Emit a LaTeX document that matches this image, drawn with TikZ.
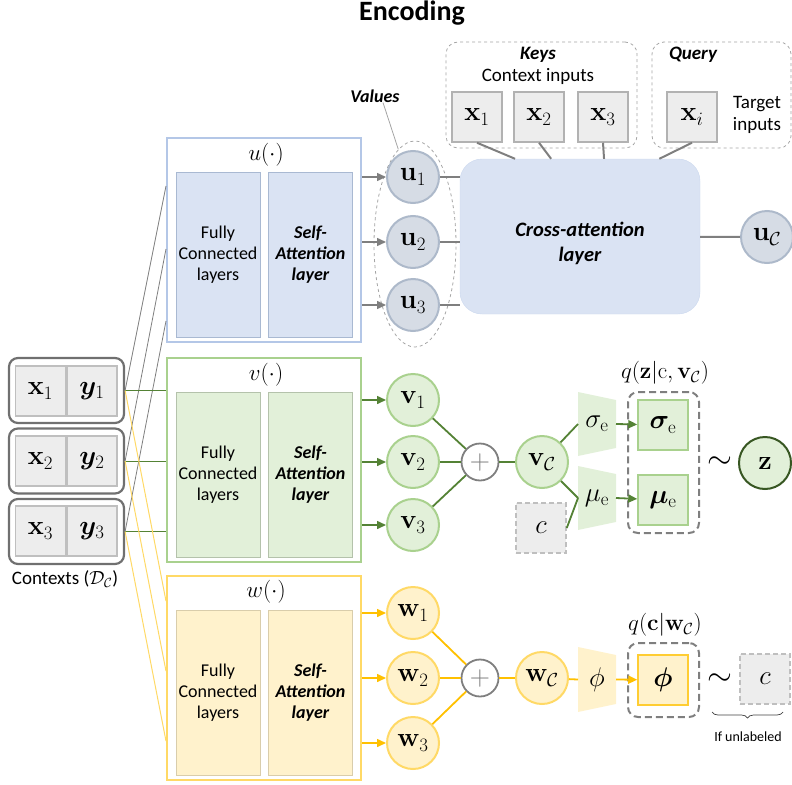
\RequirePackage{fix-cm}
\documentclass[tikz,border=0pt]{standalone}
\usepackage[no-math]{fontspec}
\setmainfont{Carlito}
\usepackage{amsmath,amsfonts,bm}
\usepackage{tikz}
\usetikzlibrary{shapes,arrows.meta,calc,decorations.pathreplacing}

\definecolor{ublue}{HTML}{DAE3F3}
\definecolor{uline}{HTML}{B4C7E7}
\definecolor{ucirc}{HTML}{D6DCE5}
\definecolor{ucircline}{HTML}{ADB9CA}
\definecolor{vgreen}{HTML}{E2F0D9}
\definecolor{vline}{HTML}{A9D18E}
\definecolor{vdark}{HTML}{548235}
\definecolor{zdark}{HTML}{385723}
\definecolor{wyellow}{HTML}{FFF2CC}
\definecolor{wline}{HTML}{FFD966}
\definecolor{wdark}{HTML}{FFC000}
\definecolor{cellgray}{HTML}{EDEDED}
\definecolor{cellline}{HTML}{BFBFBF}
\definecolor{linegray}{HTML}{7F7F7F}
\definecolor{ctxline}{HTML}{707070}

\begin{document}
\begin{tikzpicture}[x=1pt,y=-1pt,>={Triangle[length=9pt,width=8pt]}]
	\tikzstyle{txt}=[font=\fontsize{18}{21}\selectfont,align=center,inner sep=0pt]
	\tikzstyle{bitxt}=[font=\fontsize{18}{21}\selectfont\bfseries\itshape,align=center,inner sep=0pt]
	\tikzstyle{mth}=[font=\fontsize{23}{27}\selectfont,inner sep=0pt]
	\tikzstyle{trap}=[font=\fontsize{27}{30}\selectfont,inner sep=0pt]
	\tikzstyle{block}=[draw,fill=white,line width=2pt,minimum width=194pt,minimum height=204pt]
	\tikzstyle{panel}=[draw,line width=0.8pt,minimum width=84pt,minimum height=165pt,txt]
	\tikzstyle{sapanel}=[panel,bitxt]
	\tikzstyle{circ}=[circle,line width=2pt,minimum size=52pt,inner sep=0pt,font=\fontsize{27}{30}\selectfont]
	\tikzstyle{cell}=[draw=cellline,fill=cellgray,line width=1.5pt,minimum width=50pt,minimum height=50pt,inner sep=0pt,font=\fontsize{27}{30}\selectfont]
	\tikzstyle{ghost}=[cell,dash pattern=on 5pt off 3pt]
	\tikzstyle{ctxbox}=[draw=ctxline,line width=2.2pt,rounded corners=9pt,minimum width=115pt,minimum height=65pt]
	\tikzstyle{keybox}=[draw=linegray!70,line width=0.8pt,dashed,rounded corners=12pt,minimum height=106pt]
	\tikzstyle{qbox}=[draw=linegray,line width=2pt,dash pattern=on 7pt off 4pt,rounded corners=10pt,minimum width=71pt]
	\tikzstyle{plusnode}=[circle,draw=linegray,line width=1.8pt,fill=white,minimum size=37pt,inner sep=0pt,text=linegray,font=\fontsize{28}{28}\selectfont]
	\tikzstyle{sim}=[font=\fontsize{32}{32}\selectfont,inner sep=0pt]

	\useasboundingbox (0,0) rectangle (792,784);

	\node[font=\fontsize{28}{32}\selectfont\bfseries,anchor=base] (title) at (412,21) {Encoding};

	% contexts
	\node[ctxbox] (ctx1) at (66.5,390.5) {};
	\node[ctxbox] (ctx2) at (66.5,461) {};
	\node[ctxbox] (ctx3) at (66.5,531.5) {};
	\node[cell] (cx1) at (40.5,391) {$\mathbf{x}_1$};
	\node[cell] (cy1) at (92,391) {$\boldsymbol{y}_1$};
	\node[cell] (cx2) at (40.5,461) {$\mathbf{x}_2$};
	\node[cell] (cy2) at (92,461) {$\boldsymbol{y}_2$};
	\node[cell] (cx3) at (40.5,531) {$\mathbf{x}_3$};
	\node[cell] (cy3) at (92,531) {$\boldsymbol{y}_3$};
	\node[txt,font=\fontsize{19}{22}\selectfont] (ctxlab) at (65,579) {Contexts ($\mathcal{D}_{\mathcal{C}}$)};

	% the three encoders
	\node[block,draw=uline] (ublock) at (264,240) {};
	\node[block,draw=vline] (vblock) at (264,460) {};
	\node[block,draw=wline] (wblock) at (264,678) {};
	\node[mth] (utitle) at (266,155) {$u(\cdot)$};
	\node[mth] (vtitle) at (266,375) {$v(\cdot)$};
	\node[mth] (wtitle) at (266,592) {$w(\cdot)$};
	\node[panel,draw=uline!80!gray,fill=ublue] (ufc) at (218,254.5) {Fully\\Connected\\layers};
	\node[sapanel,draw=uline!80!gray,fill=ublue] (usa) at (310.5,254.5) {Self-\\Attention\\layer};
	\node[panel,draw=vline!50!gray!70,fill=vgreen] (vfc) at (218,474.5) {Fully\\Connected\\layers};
	\node[sapanel,draw=vline!50!gray!70,fill=vgreen] (vsa) at (310.5,474.5) {Self-\\Attention\\layer};
	\node[panel,draw=wline!50!gray!60,fill=wyellow] (wfc) at (218,692.5) {Fully\\Connected\\layers};
	\node[sapanel,draw=wline!50!gray!60,fill=wyellow] (wsa) at (310.5,692.5) {Self-\\Attention\\layer};

	\draw[linegray,line width=0.8pt] (ctx1.east) -- ($(ublock.north west)+(0,49)$);
	\draw[linegray,line width=0.8pt] (ctx2.east) -- ($(ublock.north west)+(0,112)$);
	\draw[linegray,line width=0.8pt] (ctx3.east) -- ($(ublock.north west)+(0,184)$);
	\draw[vdark,line width=0.8pt] (ctx1.east) -- (ctx1.east -| vblock.west);
	\draw[vdark,line width=0.8pt] (ctx2.east) -- (ctx2.east -| vblock.west);
	\draw[vdark,line width=0.8pt] (ctx3.east) -- (ctx3.east -| vblock.west);
	\draw[wline,line width=1pt] (ctx1.east) -- ($(wblock.north west)+(0,26)$);
	\draw[wline,line width=1pt] (ctx2.east) -- ($(wblock.north west)+(0,96)$);
	\draw[wline,line width=1pt] (ctx3.east) -- ($(wblock.north west)+(0,166)$);

	% keys, query and cross-attention
	\node[keybox,minimum width=191pt] (keys) at (541.5,95) {};
	\node[keybox,minimum width=139pt] (query) at (721.5,95) {};
	\node[bitxt,font=\fontsize{19}{22}\selectfont\bfseries\itshape] (keyslab) at (538,55) {Keys};
	\node[txt,font=\fontsize{19}{22}\selectfont] (ctxin) at (538,76) {Context inputs};
	\node[bitxt,font=\fontsize{19}{22}\selectfont\bfseries\itshape] (querylab) at (693,55) {Query};
	\node[txt,font=\fontsize{19}{22}\selectfont] (tgtin) at (757,115) {Target\\inputs};
	\node[cell,draw=linegray!60] (kx1) at (477,117) {$\mathbf{x}_1$};
	\node[cell,draw=linegray!60] (kx2) at (539,117) {$\mathbf{x}_2$};
	\node[cell,draw=linegray!60] (kx3) at (603,117) {$\mathbf{x}_3$};
	\node[cell,draw=linegray!60] (qxi) at (692,117) {$\mathbf{x}_i$};

	\node[draw=uline!70,fill=ublue,rounded corners=22pt,minimum width=240pt,minimum height=155pt] (cross) at (580,236.5) {};
	\node[font=\fontsize{20.5}{25}\selectfont\bfseries\itshape,align=center] (crosslab) at (580,243) {Cross-attention\\layer};

	\draw[linegray,line width=2pt] (kx1.south) -- ($(cross.north west)!0.23!(cross.north east)$);
	\draw[linegray,line width=2pt] (kx2.south) -- ($(cross.north west)!0.38!(cross.north east)$);
	\draw[linegray,line width=2pt] (kx3.south) -- ($(cross.north west)!0.6!(cross.north east)$);
	\draw[linegray,line width=2pt] (qxi.south) -- ($(cross.north west)!0.83!(cross.north east)$);

	% values
	\node[ellipse,draw=linegray!70,dashed,line width=0.8pt,minimum width=82pt,minimum height=206pt] (vals) at (415,244) {};
	\node[bitxt] (valslab) at (375,96) {Values};
	\node[circ,draw=ucircline,fill=ucirc] (u1) at (413,177) {$\mathbf{u}_1$};
	\node[circ,draw=ucircline,fill=ucirc] (u2) at (413,242) {$\mathbf{u}_2$};
	\node[circ,draw=ucircline,fill=ucirc] (u3) at (413,305) {$\mathbf{u}_3$};
	\node[circ,draw=ucircline,fill=ucirc] (uC) at (767,237) {$\mathbf{u}_{\mathcal{C}}$};
	\draw[linegray!70,line width=0.8pt] ([xshift=8pt]valslab.south) -- (vals.100);

	\draw[->,linegray,line width=1.5pt] (ublock.east |- u1) -- (u1);
	\draw[->,linegray,line width=1.5pt] (ublock.east |- u2) -- (u2);
	\draw[->,linegray,line width=1.5pt] (ublock.east |- u3) -- (u3);
	\draw[linegray,line width=2pt] (u1) -- (u1 -| cross.west);
	\draw[linegray,line width=2pt] (u2) -- (u2 -| cross.west);
	\draw[linegray,line width=2pt] (u3) -- (u3 -| cross.west);
	\draw[linegray,line width=2pt] (cross) -- (uC);

	% v branch
	\node[circ,draw=vline,fill=vgreen] (v1) at (413,400) {$\mathbf{v}_1$};
	\node[circ,draw=vline,fill=vgreen] (v2) at (413,462) {$\mathbf{v}_2$};
	\node[circ,draw=vline,fill=vgreen] (v3) at (413,525) {$\mathbf{v}_3$};
	\node[plusnode] (vplus) at (480,462) {$+$};
	\node[circ,draw=vline,fill=vgreen] (vC) at (542,462) {$\mathbf{v}_{\mathcal{C}}$};
	\node[ghost] (vc) at (541,528) {$c$};

	\fill[vgreen] (578,392) -- (616,400) -- (616,448) -- (578,456) -- cycle;
	\fill[vgreen] (578,466) -- (616,474) -- (616,522) -- (578,530) -- cycle;
	\coordinate (sigin) at (578,424);
	\coordinate (sigout) at (616,424);
	\coordinate (muin) at (578,498);
	\coordinate (muout) at (616,498);
	\node[trap] (sigl) at (597,424) {$\sigma_{\mathrm{e}}$};
	\node[trap] (mul) at (597,498) {$\mu_{\mathrm{e}}$};

	\node[qbox,minimum height=141pt] (qv) at (663.5,462.5) {};
	\node[cell,draw=vline,fill=vgreen] (sigbox) at (663,425) {$\boldsymbol{\sigma}_{\mathrm{e}}$};
	\node[cell,draw=vline,fill=vgreen] (mubox) at (663,500) {$\boldsymbol{\mu}_{\mathrm{e}}$};
	\node[mth] (qvlab) at (665,373) {$q(\mathbf{z}|\mathrm{c},\mathbf{v}_{\mathcal{C}})$};
	\node[sim] (simz) at (720,463) {$\sim$};
	\node[circ,draw=zdark,fill=vgreen] (z) at (765,463) {$\mathbf{z}$};

	\draw[->,vdark,line width=1.5pt] (vblock.east |- v1) -- (v1);
	\draw[->,vdark,line width=1.5pt] (vblock.east |- v2) -- (v2);
	\draw[->,vdark,line width=1.5pt] (vblock.east |- v3) -- (v3);
	\draw[vdark,line width=1.8pt] (v1) -- (vplus);
	\draw[vdark,line width=1.8pt] (v2) -- (vplus);
	\draw[vdark,line width=1.8pt] (v3) -- (vplus);
	\draw[vdark,line width=1.8pt] (vplus) -- (vC);
	\draw[vdark,line width=1.8pt] (vC) -- (sigin);
	\draw[vdark,line width=1.8pt] (vC) -- (muin);
	\draw[vdark,line width=1.8pt] (vc.east) -- (muin);
	\draw[->,vdark,line width=1.8pt] (sigout) -- (sigbox);
	\draw[->,vdark,line width=1.8pt] (muout) -- (mubox);

	% w branch
	\node[circ,draw=wline,fill=wyellow] (w1) at (413,613) {$\mathbf{w}_1$};
	\node[circ,draw=wline,fill=wyellow] (w2) at (413,678) {$\mathbf{w}_2$};
	\node[circ,draw=wline,fill=wyellow] (w3) at (413,743) {$\mathbf{w}_3$};
	\node[plusnode] (wplus) at (480,678) {$+$};
	\node[circ,draw=wline,fill=wyellow] (wC) at (542,678) {$\mathbf{w}_{\mathcal{C}}$};

	\fill[wyellow] (578,647) -- (616,655) -- (616,704) -- (578,712) -- cycle;
	\coordinate (phiin) at (578,679.5);
	\coordinate (phiout) at (616,679.5);
	\node[trap] (phil) at (597,679.5) {$\phi$};

	\node[qbox,minimum height=74pt] (qw) at (663.5,680) {};
	\node[cell,draw=wdark!80,fill=wyellow] (phibox) at (663,680) {$\boldsymbol{\phi}$};
	\node[mth] (qwlab) at (665,625) {$q(\mathbf{c}|\mathbf{w}_{\mathcal{C}})$};
	\node[sim] (simc) at (720,680) {$\sim$};
	\node[ghost] (wc) at (765,679) {$c$};
	\draw[decorate,decoration={brace,mirror,amplitude=6pt},line width=0.7pt,black!75] (712,712) -- (783,712);
	\node[txt,font=\fontsize{14}{16}\selectfont] (unlab) at (748,737) {If unlabeled};

	\draw[->,wdark,line width=1.5pt] (wblock.east |- w1) -- (w1);
	\draw[->,wdark,line width=1.5pt] (wblock.east |- w2) -- (w2);
	\draw[->,wdark,line width=1.5pt] (wblock.east |- w3) -- (w3);
	\draw[wdark,line width=1.8pt] (w1) -- (wplus);
	\draw[wdark,line width=1.8pt] (w2) -- (wplus);
	\draw[wdark,line width=1.8pt] (w3) -- (wplus);
	\draw[wdark,line width=1.8pt] (wplus) -- (wC);
	\draw[wdark,line width=1.8pt] (wC) -- (phiin);
	\draw[->,wdark,line width=1.8pt] (phiout) -- (phibox);
\end{tikzpicture}
\end{document}
